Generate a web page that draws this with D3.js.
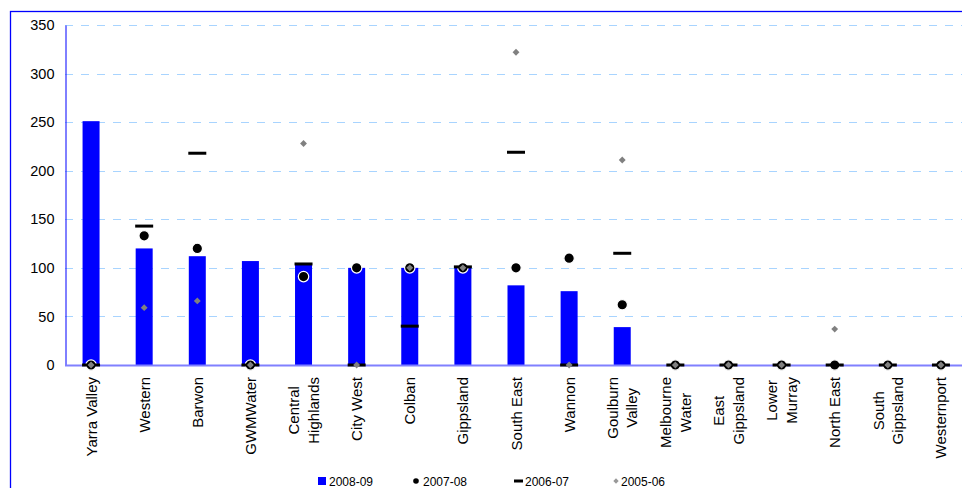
<!DOCTYPE html>
<html><head><meta charset="utf-8">
<script src="https://cdn.jsdelivr.net/npm/d3@7"></script>
<style>
html,body{margin:0;padding:0;background:#fff;}
svg{display:block;font-family:"Liberation Sans",Arial,sans-serif;}
</style></head>
<body>
<svg id="chart" width="962" height="488"></svg>
<script>
const categories = [["Yarra Valley"],["Western"],["Barwon"],["GWMWater"],["Central","Highlands"],["City West"],["Colban"],["Gippsland"],["South East"],["Wannon"],["Goulburn","Valley"],["Melbourne","Water"],["East","Gippsland"],["Lower","Murray"],["North East"],["South","Gippsland"],["Westernport"]];
const s2008_09 = [251,120,112,107,103,100,100,100,82,76,39,0,0,0,0,0,0];
const s2007_08 = [0,133,120,0,91,100,100,100,100,110,62,0,0,0,0,0,0];
const s2006_07 = [0,143,218,0,104,0,40,101,219,0,115,0,0,0,0,0,0];
const s2005_06 = [0,59,66,0,228,0,100,100,322,0,211,0,0,0,37,0,0];
const yTicks = [0,50,100,150,200,250,300,350];
const legendLabels = ["2008-09","2007-08","2006-07","2005-06"];

const svg = d3.select("#chart");
const names = categories.map(c => c.join(" "));
const x = d3.scaleBand().domain(names).range([64.5, 967.5]).paddingInner(0.68).paddingOuter(0.34);
const y = d3.scaleLinear().domain([0,350]).range([365,25]);
const cx = i => x(names[i]) + x.bandwidth()/2;

// outer border
svg.append("rect").attr("x",10.5).attr("y",11.5).attr("width",1000).attr("height",600)
  .attr("fill","none").attr("stroke","#0000ff").attr("stroke-width",1.3);

// gridlines
svg.append("g").selectAll("line").data(yTicks.filter(t=>t>0)).join("line")
  .attr("x1",65).attr("x2",967).attr("y1",d=>Math.round(y(d))+0.5).attr("y2",d=>Math.round(y(d))+0.5)
  .attr("stroke","#a8d4ff").attr("stroke-width",1).attr("stroke-dasharray","8,8");

// y axis
const yAxis = d3.axisLeft(y).tickValues(yTicks).tickSize(0).tickPadding(11);
const ga = svg.append("g").attr("transform","translate(65.5,0)").call(yAxis);
ga.select(".domain").attr("stroke","#0000ff").attr("stroke-width",1);
ga.selectAll("text").attr("font-size","14.5px").attr("fill","#000").attr("font-family","Liberation Sans, Arial, sans-serif");

// bars
svg.append("g").selectAll("rect").data(s2008_09).join("rect")
  .attr("x",(d,i)=>x(names[i])).attr("width",x.bandwidth())
  .attr("y",d=>y(d)).attr("height",d=>y(0)-y(d)).attr("fill","#0000ff");

// x axis line
svg.append("line").attr("x1",65).attr("x2",967).attr("y1",365.5).attr("y2",365.5)
  .attr("stroke","#8080ff").attr("stroke-width",2);

// 2007-08 dots
svg.append("g").selectAll("circle").data(s2007_08).join("circle")
  .attr("cx",(d,i)=>cx(i)).attr("cy",d=>y(d)).attr("r",5.2)
  .attr("fill","#000").attr("stroke","#fff").attr("stroke-width",1.2);

// 2006-07 dashes
svg.append("g").selectAll("line").data(s2006_07).join("line")
  .attr("x1",(d,i)=>cx(i)-9).attr("x2",(d,i)=>cx(i)+9)
  .attr("y1",d=>y(d)).attr("y2",d=>y(d))
  .attr("stroke","#000").attr("stroke-width",3);

// 2005-06 diamonds
const diamond = d3.symbol().type(d3.symbolDiamond2).size(30);
svg.append("g").selectAll("path").data(s2005_06).join("path")
  .attr("d",diamond).attr("transform",(d,i)=>`translate(${cx(i)},${y(d)})`)
  .attr("fill","#808080");

// x labels
const gl = svg.append("g");
categories.forEach((lines,i)=>{
  const fs = 15, lh = 19.5;
  const tmp = gl.append("text").attr("font-size",fs+"px");
  let maxW = 0;
  lines.forEach(l=>{ tmp.text(l); maxW = Math.max(maxW, tmp.node().getComputedTextLength()); });
  tmp.remove();
  const cy = 377 + maxW/2;
  const n = lines.length;
  lines.forEach((l,k)=>{
    const off = (k - (n-1)/2) * lh;
    gl.append("text").attr("font-size",fs+"px").attr("fill","#000")
      .attr("text-anchor","middle").attr("dominant-baseline","central")
      .attr("transform",`translate(${cx(i)+off},${cy}) rotate(-90)`)
      .text(l);
  });
});

// legend
const lg = svg.append("g").attr("font-size","12px");
const lx = [318, 412, 510, 612];
lg.append("rect").attr("x",lx[0]).attr("y",477).attr("width",8).attr("height",8).attr("fill","#0000ff");
lg.append("circle").attr("cx",lx[1]+4).attr("cy",481).attr("r",2.8).attr("fill","#000");
lg.append("line").attr("x1",lx[2]+4).attr("x2",lx[2]+13).attr("y1",481).attr("y2",481).attr("stroke","#000").attr("stroke-width",3);
lg.append("path").attr("d",d3.symbol().type(d3.symbolDiamond2).size(18)).attr("transform",`translate(${lx[3]+4},481)`).attr("fill","#999");
const tx = [329, 423, 525, 621];
legendLabels.forEach((t,i)=>{
  lg.append("text").attr("x",tx[i]).attr("y",485.5).attr("fill","#000").text(t);
});
</script>
</body></html>
